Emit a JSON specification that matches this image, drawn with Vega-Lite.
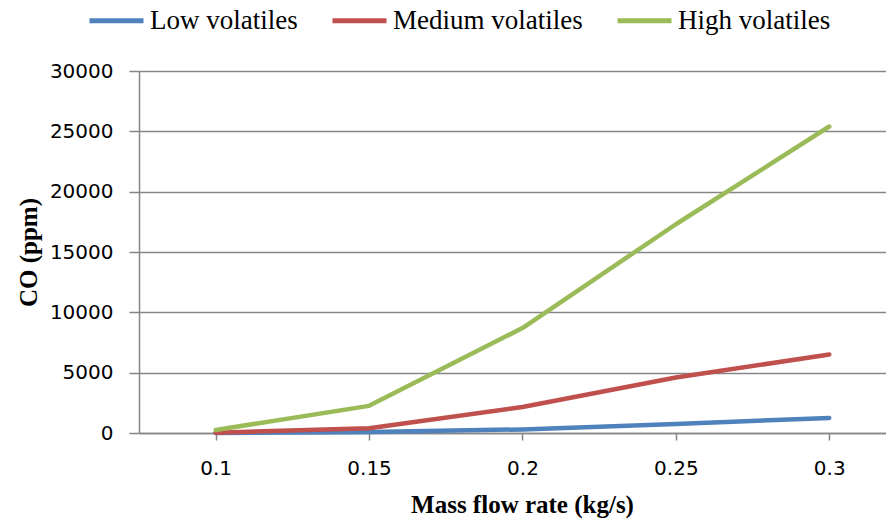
{
  "$schema": "https://vega.github.io/schema/vega-lite/v6.json",
  "width": 747,
  "height": 362,
  "autosize": {"type": "none"},
  "padding": {"left": 139, "top": 71, "right": 0, "bottom": 88},
  "background": "white",
  "config": {"view": {"stroke": null}},
  "data": {
    "values": [
      {"rate": 0.1, "series": "Low volatiles", "co": 0},
      {"rate": 0.15, "series": "Low volatiles", "co": 80},
      {"rate": 0.2, "series": "Low volatiles", "co": 300},
      {"rate": 0.25, "series": "Low volatiles", "co": 750},
      {"rate": 0.3, "series": "Low volatiles", "co": 1250},
      {"rate": 0.1, "series": "Medium volatiles", "co": 30},
      {"rate": 0.15, "series": "Medium volatiles", "co": 400},
      {"rate": 0.2, "series": "Medium volatiles", "co": 2150},
      {"rate": 0.25, "series": "Medium volatiles", "co": 4600},
      {"rate": 0.3, "series": "Medium volatiles", "co": 6500},
      {"rate": 0.1, "series": "High volatiles", "co": 250},
      {"rate": 0.15, "series": "High volatiles", "co": 2250},
      {"rate": 0.2, "series": "High volatiles", "co": 8700},
      {"rate": 0.25, "series": "High volatiles", "co": 17300},
      {"rate": 0.3, "series": "High volatiles", "co": 25400}
    ]
  },
  "mark": {"type": "line", "strokeWidth": 4.5, "strokeCap": "round", "strokeJoin": "round"},
  "encoding": {
    "x": {
      "field": "rate",
      "type": "quantitative",
      "scale": {"domain": [0.075, 0.3185], "nice": false, "zero": false},
      "axis": {
        "values": [0.1, 0.15, 0.2, 0.25, 0.3],
        "format": "~g",
        "grid": false,
        "domainColor": "#868686",
        "domainWidth": 1.5,
        "tickColor": "#868686",
        "tickWidth": 1.5,
        "tickSize": 7,
        "labelFont": "DejaVu Sans",
        "labelFontSize": 20,
        "labelColor": "#000000",
        "labelPadding": 18,
        "title": "Mass flow rate (kg/s)",
        "titleFont": "Liberation Serif",
        "titleFontSize": 25,
        "titleFontWeight": "bold",
        "titleColor": "#000000",
        "titleX": 383,
        "titleY": 79,
        "titleAlign": "center",
        "titleBaseline": "alphabetic"
      }
    },
    "y": {
      "field": "co",
      "type": "quantitative",
      "scale": {"domain": [0, 30000], "nice": false},
      "axis": {
        "values": [0, 5000, 10000, 15000, 20000, 25000, 30000],
        "format": "d",
        "grid": true,
        "gridColor": "#868686",
        "gridWidth": 1.5,
        "domainColor": "#868686",
        "domainWidth": 1.5,
        "tickColor": "#868686",
        "tickWidth": 1.5,
        "tickSize": 10,
        "labelFont": "DejaVu Sans",
        "labelFontSize": 20,
        "labelColor": "#000000",
        "labelPadding": 16,
        "title": "CO (ppm)",
        "titleFont": "Liberation Serif",
        "titleFontSize": 25,
        "titleFontWeight": "bold",
        "titleColor": "#000000",
        "titleAngle": 270,
        "titleX": -111,
        "titleY": 181,
        "titleAlign": "center",
        "titleBaseline": "middle"
      }
    },
    "color": {
      "field": "series",
      "type": "nominal",
      "scale": {
        "domain": ["Low volatiles", "Medium volatiles", "High volatiles"],
        "range": ["#4F81BD", "#C0504D", "#9BBB59"]
      },
      "legend": {
        "title": null,
        "orient": "none",
        "direction": "horizontal",
        "legendX": -52,
        "legendY": -80,
        "padding": 0,
        "symbolType": "stroke",
        "symbolSize": 2916,
        "symbolStrokeWidth": 5,
        "labelFont": "Liberation Serif",
        "labelFontSize": 27,
        "labelColor": "#000000",
        "labelOffset": 4,
        "columnPadding": 24,
        "labelLimit": 300
      }
    }
  }
}
